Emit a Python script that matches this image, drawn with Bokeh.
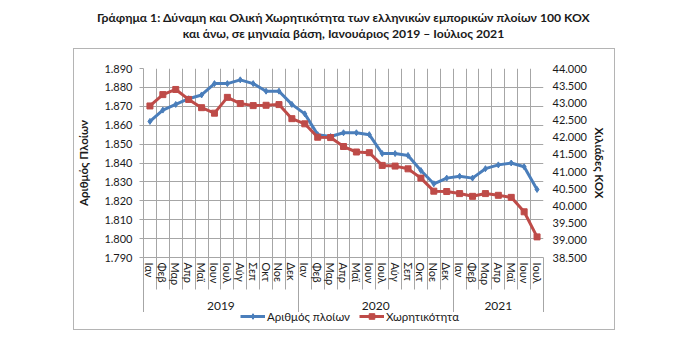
import numpy as np
from bokeh.plotting import figure
from bokeh.layouts import column
from bokeh.models import (Range1d, LinearAxis, FixedTicker, SingleIntervalTicker, Grid,
                          CustomJSTickFormatter, Legend, LegendItem, ColumnDataSource)
from bokeh.embed import file_html
from bokeh.resources import INLINE

# ---------------- data ----------------
month_names = ["Ιαν", "Φεβ", "Μαρ", "Απρ", "Μαϊ", "Ιουν", "Ιουλ", "Αύγ", "Σεπ", "Οκτ", "Νοε", "Δεκ"]
years = ["2019", "2020", "2021"]
months_per_year = [12, 12, 7]
ships = [1862, 1868, 1871, 1874, 1876, 1882, 1882, 1884, 1882, 1878, 1878, 1871,
         1866, 1855, 1854, 1856, 1856, 1855, 1845, 1845, 1844, 1836, 1829, 1832,
         1833, 1832, 1837, 1839, 1840, 1838, 1826]
tonnage = [42910, 43240, 43390, 43100, 42860, 42700, 43160, 42980, 42920, 42930, 42950, 42540,
           42390, 42000, 41990, 41730, 41570, 41550, 41180, 41160, 41080, 40810, 40430, 40420,
           40360, 40280, 40360, 40310, 40250, 39830, 39100]
series_names = ["Αριθμός πλοίων", "Χωρητικότητα"]
title_lines = ["Γράφημα 1: Δύναμη και Ολική Χωρητικότητα των ελληνικών εμπορικών πλοίων 100 ΚΟΧ",
               "και άνω, σε μηνιαία βάση, Ιανουάριος 2019 – Ιούλιος 2021"]
left_title = "Αριθμός Πλοίων"
right_title = "Χιλιάδες ΚΟΧ"

# ---------------- derived ----------------
n = len(ships)
month_seq = [month_names[i % 12] for i in range(n)]
xs = [i + 0.5 for i in range(n)]
bounds = [float(b) for b in np.cumsum([0] + months_per_year)]
year_centers = [(bounds[i] + bounds[i + 1]) / 2 for i in range(len(years))]
src = ColumnDataSource(dict(x=xs, ships=ships, tonnage=tonnage, month=month_seq))

FONT = "Lato"
GRID = "#a6a6a6"
BOX = "#b4b4b4"
TXT = "#1a1a1a"
BLUE = "#4a7ebb"
RED = "#be4b48"

FMT = """
const s = Math.round(tick).toString();
return s.length > 3 ? s.slice(0, -3) + '.' + s.slice(-3) : s;
"""

SIDE = dict(frame_width=400, min_border_left=143, min_border_right=157,
            output_backend="svg", toolbar_location=None, x_axis_type=None, y_axis_type=None)

# ---------------- title strip (two centred bold lines, drawn as axis labels) ----------------
tf = figure(frame_height=1, min_border_top=0, min_border_bottom=47,
            x_range=Range1d(0, 1), y_range=Range1d(0, 1), **SIDE)
tf.outline_line_color = None
tf.border_fill_alpha = 0
tf.background_fill_alpha = 0
for txt, stand in zip(title_lines, [8, -2]):
    ax = LinearAxis(ticker=FixedTicker(ticks=[0.5], minor_ticks=[]),
                    formatter=CustomJSTickFormatter(args=dict(t=txt), code="return t;"))
    ax.axis_line_color = None
    ax.major_tick_line_color = None
    ax.minor_tick_line_color = None
    ax.major_tick_out = 0
    ax.major_tick_in = 0
    ax.major_label_standoff = stand
    ax.major_label_text_font = FONT
    ax.major_label_text_font_size = "12.2px"
    ax.major_label_text_font_style = "bold"
    ax.major_label_text_color = TXT
    tf.add_layout(ax, "below")

# ---------------- main chart ----------------
p = figure(frame_height=189, min_border_top=20, min_border_bottom=55,
           x_range=Range1d(0, n), y_range=Range1d(1790, 1890), **SIDE)
p.outline_line_color = None
p.background_fill_color = "white"
p.border_fill_alpha = 0
p.extra_y_ranges = {"gt": Range1d(38500, 44000)}

# left axis
yl = LinearAxis(ticker=SingleIntervalTicker(interval=10, num_minor_ticks=0),
                formatter=CustomJSTickFormatter(code=FMT), axis_label=left_title)
yl.axis_line_color = GRID
yl.major_tick_line_color = GRID
yl.major_tick_out = 4
yl.major_tick_in = 0
yl.minor_tick_line_color = None
yl.major_label_text_font = FONT
yl.major_label_text_font_size = "11px"
yl.major_label_text_color = TXT
yl.major_label_standoff = 7
yl.axis_label_text_font = FONT
yl.axis_label_text_font_size = "11.5px"
yl.axis_label_text_font_style = "bold"
yl.axis_label_text_color = TXT
yl.axis_label_standoff = 11
p.add_layout(yl, "left")

# right axis
yr = LinearAxis(y_range_name="gt", ticker=SingleIntervalTicker(interval=500, num_minor_ticks=0),
                formatter=CustomJSTickFormatter(code=FMT), axis_label=right_title)
yr.axis_line_color = None
yr.major_tick_line_color = None
yr.major_tick_out = 0
yr.minor_tick_line_color = None
yr.major_label_text_font = FONT
yr.major_label_text_font_size = "11px"
yr.major_label_text_color = TXT
yr.major_label_standoff = 9
yr.axis_label_text_font = FONT
yr.axis_label_text_font_size = "11.5px"
yr.axis_label_text_font_style = "bold"
yr.axis_label_text_color = TXT
yr.axis_label_standoff = 3
p.add_layout(yr, "right")

# month axis (separators drawn as minor ticks pointing outward via negative tick_in)
xm = LinearAxis(ticker=FixedTicker(ticks=xs, minor_ticks=list(range(n + 1))),
                formatter=CustomJSTickFormatter(args=dict(labels=month_seq),
                                                code="return labels[Math.floor(tick)] || '';"))
xm.major_label_orientation = "vertical"
xm.axis_line_color = GRID
xm.major_tick_line_color = None
xm.major_tick_out = 0
xm.major_tick_in = 0
xm.minor_tick_line_color = GRID
xm.minor_tick_in = -32
xm.minor_tick_out = 0
xm.major_label_text_font = FONT
xm.major_label_text_font_size = "11px"
xm.major_label_text_color = TXT
xm.major_label_standoff = 5
p.add_layout(xm, "below")

# year axis
xy = LinearAxis(ticker=FixedTicker(ticks=year_centers, minor_ticks=bounds),
                formatter=CustomJSTickFormatter(args=dict(labels=years, bounds=bounds),
                                                code="""
for (let i = 0; i < labels.length; i++) {
  if (tick >= bounds[i] && tick < bounds[i + 1]) return labels[i];
}
return '';"""))
xy.axis_line_color = None
xy.major_tick_line_color = None
xy.major_tick_out = 0
xy.major_tick_in = 0
xy.minor_tick_line_color = GRID
xy.minor_tick_in = -27
xy.minor_tick_out = 0
xy.major_label_text_font = FONT
xy.major_label_text_font_size = "12px"
xy.major_label_text_color = TXT
xy.major_label_standoff = 13
p.add_layout(xy, "below")

# grids
p.add_layout(Grid(dimension=0, ticker=FixedTicker(ticks=list(range(n + 1))),
                  grid_line_color=GRID, grid_line_width=1))
p.add_layout(Grid(dimension=1, ticker=SingleIntervalTicker(interval=10),
                  grid_line_color=GRID, grid_line_width=1))

# series
p.line("x", "ships", source=src, line_color=BLUE, line_width=3)
p.scatter("x", "ships", source=src, marker="diamond", size=6, fill_color=BLUE, line_color=BLUE)
p.line("x", "tonnage", source=src, y_range_name="gt", line_color=RED, line_width=3)
p.scatter("x", "tonnage", source=src, y_range_name="gt", marker="square", size=6,
          fill_color=RED, line_color=RED)

# ---------------- legend strip ----------------
# legend renderers reuse the series data; it lies outside this strip's ranges, so only
# the legend samples are visible here
lf = figure(frame_height=37, min_border_top=0, min_border_bottom=0,
            x_range=Range1d(0, 1), y_range=Range1d(0, 1), **SIDE)
lf.outline_line_color = None
lf.border_fill_alpha = 0
lf.background_fill_alpha = 0
lbl = lf.line("x", "ships", source=src, line_color=BLUE, line_width=3)
lbm = lf.scatter("x", "ships", source=src, marker="diamond", size=6, fill_color=BLUE, line_color=BLUE)
lrl = lf.line("x", "tonnage", source=src, line_color=RED, line_width=3)
lrm = lf.scatter("x", "tonnage", source=src, marker="square", size=6, fill_color=RED, line_color=RED)
legend = Legend(items=[LegendItem(label=series_names[0], renderers=[lbl, lbm]),
                       LegendItem(label=series_names[1], renderers=[lrl, lrm])],
                orientation="horizontal", location=(97, 26))
legend.label_text_font = FONT
legend.label_text_font_size = "11.5px"
legend.label_text_color = TXT
legend.glyph_width = 25
legend.glyph_height = 14
legend.label_height = 14
legend.label_standoff = 2
legend.spacing = 9
legend.padding = 0
legend.margin = 0
legend.border_line_color = None
legend.background_fill_alpha = 0
lf.add_layout(legend, "center")

# ---------------- page layout with the thin grey chart border ----------------
layout = column(tf, p, lf, spacing=0)
g = f"linear-gradient({BOX},{BOX})"
layout.styles = {
    "background-color": "white",
    "background-image": ", ".join([g] * 4),
    "background-size": "542px 1px, 542px 1px, 1px 282px, 1px 282px",
    "background-position": "73px 48px, 73px 329px, 73px 48px, 614px 48px",
    "background-repeat": "no-repeat",
}

open("out.html", "w").write(file_html(layout, INLINE))
